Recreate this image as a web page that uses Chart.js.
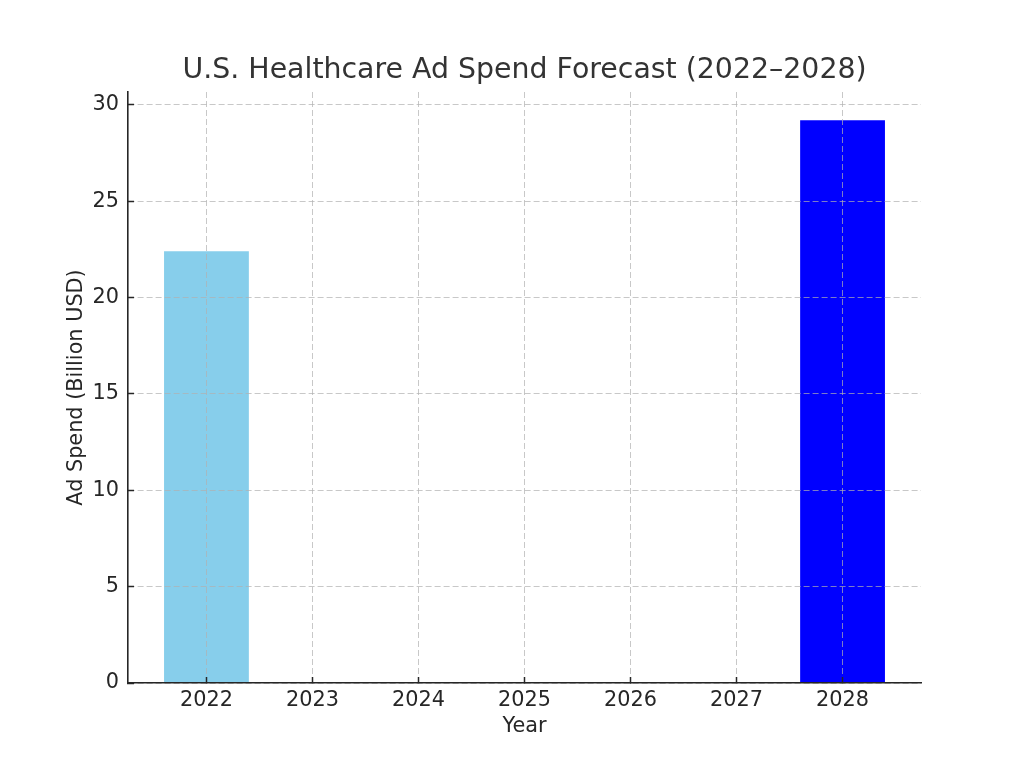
<!DOCTYPE html>
<html>
<head>
<meta charset="utf-8">
<script src="https://cdn.jsdelivr.net/npm/chart.js@4/dist/chart.umd.min.js"></script>
<style>
  html, body { margin: 0; padding: 0; background: #fff; }
  #wrap { width: 1024px; height: 768px; }
</style>
</head>
<body>
<div id="wrap"><canvas id="chart"></canvas></div>
<script>
// Chart data
const years = [2022, 2023, 2024, 2025, 2026, 2027, 2028];
const adSpend = [22.4, null, null, null, null, null, 29.2];
const barColors = ['#87ceeb', null, null, null, null, null, '#0000ff'];
const yTicks = [0, 5, 10, 15, 20, 25, 30];

const gridColor = 'rgba(176, 176, 176, 0.7)';
const axisColor = '#262626';

Chart.defaults.font.family = "'DejaVu Sans', sans-serif";
Chart.defaults.color = '#262626';

// shared grid look: dashed lines drawn over the bars, short inward tick marks
const gridOpts = {
  color: gridColor,
  lineWidth: 1,
  z: 1,
  drawTicks: true,
  tickLength: -6,
  tickColor: axisColor,
  tickWidth: 1.5,
  tickBorderDash: []
};

const ctx = document.getElementById('chart');

new Chart(ctx, {
  type: 'bar',
  data: {
    datasets: [{
      label: 'Ad Spend',
      data: years.map((y, i) => ({ x: y, y: adSpend[i] })),
      backgroundColor: barColors,
      borderWidth: 0,
      barPercentage: 0.8,
      categoryPercentage: 1.0
    }]
  },
  options: {
    responsive: true,
    maintainAspectRatio: false,
    animation: false,
    layout: {
      padding: { left: 0, right: 103, top: 0, bottom: 0 }
    },
    plugins: {
      legend: { display: false },
      tooltip: { enabled: false },
      title: { display: false }
    },
    scales: {
      x: {
        type: 'linear',
        min: years[0] - 0.74,
        max: years[years.length - 1] + 0.74,
        offset: false,
        afterFit: (scale) => { scale.height = 85; },
        afterBuildTicks: (scale) => {
          scale.ticks = years.map(v => ({ value: v }));
        },
        ticks: {
          includeBounds: false,
          font: { size: 20.8 },
          color: axisColor,
          padding: 11,
          maxRotation: 0,
          callback: (v) => String(v)
        },
        grid: Object.assign({ offset: false }, gridOpts),
        border: { display: true, color: axisColor, width: 1.6, dash: [6, 3], z: 2 },
        title: {
          display: true,
          text: 'Year',
          color: axisColor,
          font: { size: 20.8 },
          padding: { top: 0, bottom: 29 }
        }
      },
      // top axis only carries the chart title, centred over the plot area
      xTop: {
        type: 'linear',
        position: 'top',
        min: 0,
        max: 1,
        afterFit: (scale) => { scale.height = 92; },
        ticks: { display: false },
        grid: { display: false, drawTicks: false },
        border: { display: false },
        title: {
          display: true,
          text: 'U.S. Healthcare Ad Spend Forecast (2022\u20132028)',
          color: '#333333',
          font: { size: 28.4 },
          padding: { top: 54, bottom: 0 }
        }
      },
      y: {
        min: 0,
        max: 30.66,
        afterFit: (scale) => { scale.width = 128; },
        afterBuildTicks: (scale) => {
          scale.ticks = yTicks.map(v => ({ value: v }));
        },
        ticks: {
          includeBounds: false,
          font: { size: 20.8 },
          color: axisColor,
          padding: 15
        },
        grid: gridOpts,
        border: { display: true, color: axisColor, width: 1.6, dash: [6, 3], z: 2 },
        title: {
          display: true,
          text: 'Ad Spend (Billion USD)',
          color: axisColor,
          font: { size: 20.8 },
          padding: { top: 64, bottom: 0 }
        }
      }
    }
  }
});
</script>
</body>
</html>
